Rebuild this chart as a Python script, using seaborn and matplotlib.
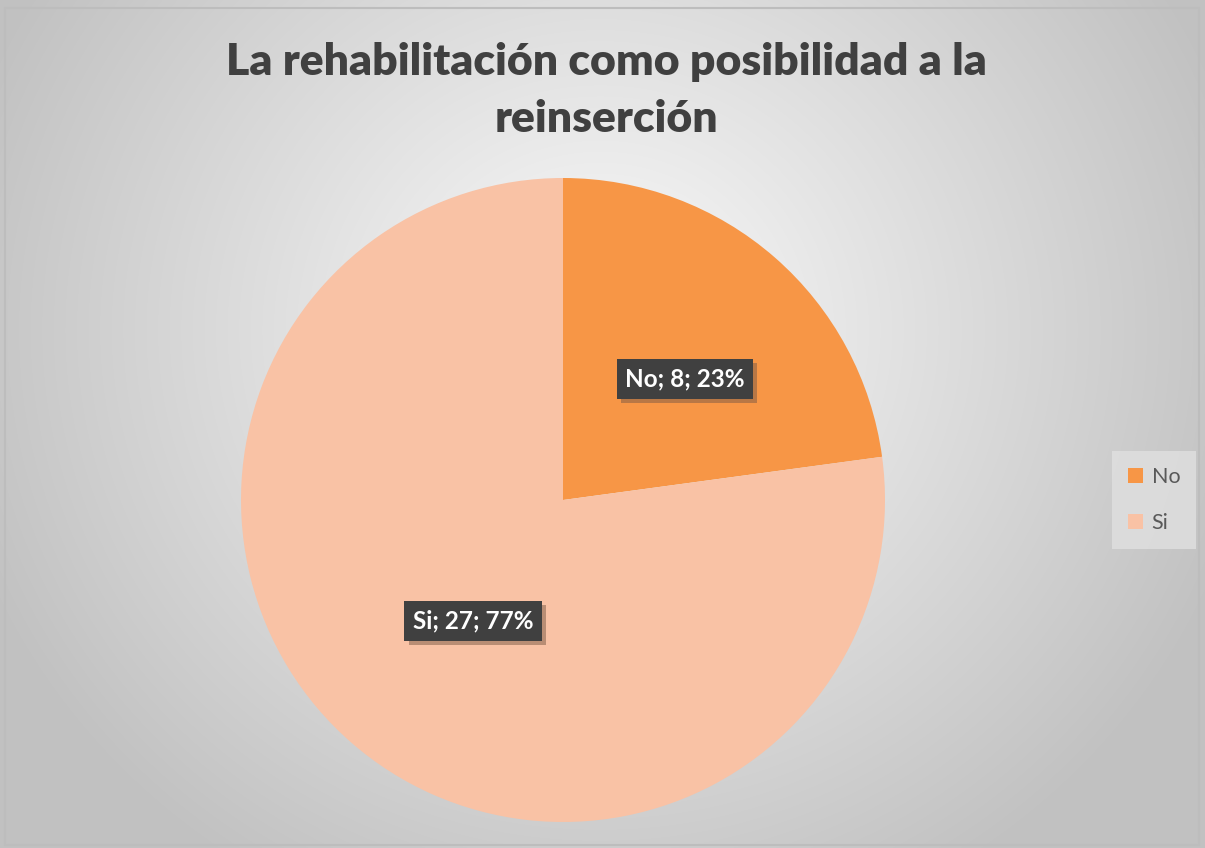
"""
Pie chart: La rehabilitación como posibilidad a la reinserción.
"""
import numpy as np
import matplotlib
matplotlib.use("Agg")
import matplotlib.pyplot as plt
import matplotlib.patheffects as pe
import seaborn as sns

sns.set_style("white")
plt.rcParams["font.family"] = ["Lato", "DejaVu Sans"]

categories = ["No", "Si"]
counts = [8, 27]
colors = sns.color_palette(["#F79646", "#F9C2A5"])

W, H = 1205, 848
fig = plt.figure(figsize=(W / 100, H / 100), dpi=100)

# --- radial gradient background ---
bg = fig.add_axes([0, 0, 1, 1])
yy, xx = np.mgrid[0:H, 0:W]
d = np.sqrt(((xx - 600) / 650.0) ** 2 + ((yy - 330) / 620.0) ** 2)
shade = np.clip(0.985 - 0.22 * d, 0.76, 1.0)
bg.imshow(np.dstack([shade] * 3), extent=[0, W, H, 0], aspect="auto")
bg.plot([5, 1199, 1199, 5, 5], [8, 8, 845, 845, 8], color="#bdbdbd", lw=1.5)
bg.set_xlim(0, W)
bg.set_ylim(H, 0)
bg.axis("off")

fig.text(0.503, 1 - 62 / H, "La rehabilitación como posibilidad a la",
         ha="center", va="center", fontsize=32, fontweight="heavy", color="#404040")
fig.text(0.503, 1 - 119 / H, "reinserción",
         ha="center", va="center", fontsize=32, fontweight="heavy", color="#404040")

# --- pie ---
ax = fig.add_axes([241 / W, 26 / H, 644 / W, 644 / H])
total = sum(counts)
labels = [f"{c}; {n}; {round(100 * n / total)}%" for c, n in zip(categories, counts)]
wedges, texts = ax.pie(counts, colors=colors, startangle=90, counterclock=False,
                       labels=labels, labeldistance=0.5,
                       wedgeprops=dict(linewidth=0))
for t in texts:
    x, y = t.get_position()
    t.set_position((x + 0.05, y))
    t.set_ha("center")
    t.set_va("center")
    t.set_color("white")
    t.set_fontweight("bold")
    t.set_fontsize(17.5)
    t.set_bbox(dict(boxstyle="square,pad=0.35", fc="#404040", ec="none"))
    t.get_bbox_patch().set_path_effects(
        [pe.SimplePatchShadow(offset=(3, -3), shadow_rgbFace="#7a5a45", alpha=0.5), pe.Normal()])
ax.set_xlim(-1, 1)
ax.set_ylim(-1, 1)
ax.set_aspect("equal")

leg = fig.legend(wedges, categories, loc="center", bbox_to_anchor=(1154 / W, 1 - 500 / H),
                 frameon=True, fontsize=15.5, handlelength=0.7, handleheight=0.7,
                 labelspacing=1.2, borderpad=0.45, handletextpad=0.4, borderaxespad=0)
leg.get_frame().set_facecolor("#e0e0e0")
leg.get_frame().set_edgecolor("none")
leg.get_frame().set_boxstyle("square")
for t in leg.get_texts():
    t.set_color("#595959")

fig.savefig("out.png", dpi=100)
